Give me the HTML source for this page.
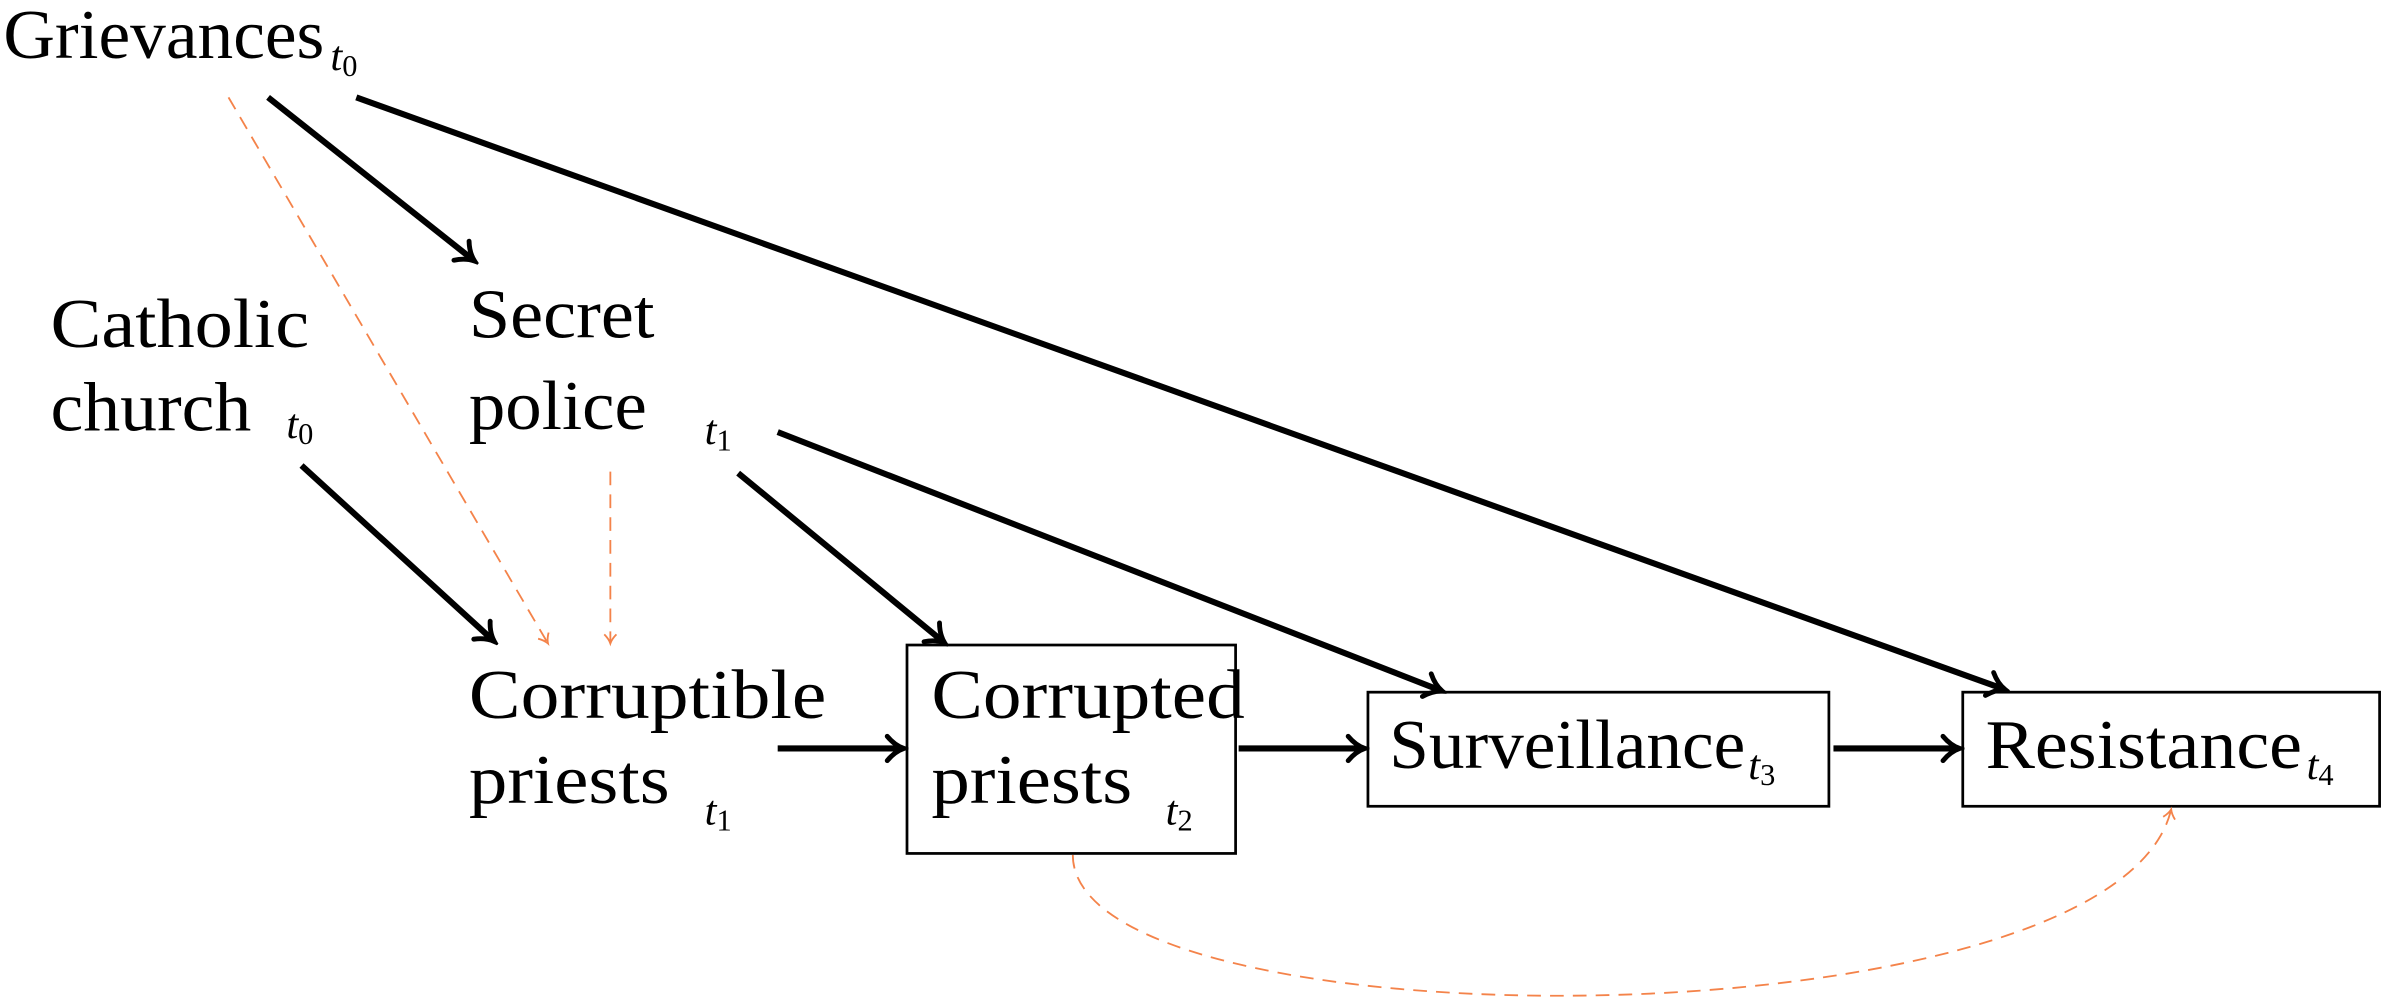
<!DOCTYPE html>
<html><head><meta charset="utf-8"><style>html,body{margin:0;padding:0;background:#fff;overflow:hidden}svg{display:block}text{font-family:"Liberation Serif","DejaVu Serif",serif}</style></head>
<body>
<svg width="2386" height="1001" viewBox="0 0 1568 658" xmlns="http://www.w3.org/2000/svg">
<defs>
<marker id="a" markerWidth="16" markerHeight="20" refX="12" refY="10" orient="auto" markerUnits="userSpaceOnUse">
<path d="M2,2 Q7,8 13,10 Q7,12 2,18" fill="none" stroke="#000" stroke-width="3.2" stroke-linecap="round"/>
</marker>
<marker id="o" markerWidth="10" markerHeight="10" refX="8" refY="5" orient="auto" markerUnits="userSpaceOnUse">
<path d="M2,1 Q5,4 8,5 Q5,6 2,9" fill="none" stroke="#f4834a" stroke-width="1.2"/>
</marker>
</defs>
<g font-size="46" fill="#000">
<text x="2" y="38" textLength="211" lengthAdjust="spacingAndGlyphs">Grievances</text><text x="217" y="46" font-size="28" font-style="italic">t<tspan font-style="normal" font-size="20" dy="4">0</tspan></text>
<text x="33" y="228" textLength="170" lengthAdjust="spacingAndGlyphs">Catholic</text><text x="33" y="283" textLength="132" lengthAdjust="spacingAndGlyphs">church</text>
<text x="188" y="288" font-size="28" font-style="italic">t<tspan font-style="normal" font-size="20" dy="4">0</tspan></text>
<text x="308" y="222" textLength="122" lengthAdjust="spacingAndGlyphs">Secret</text><text x="308" y="282" textLength="117" lengthAdjust="spacingAndGlyphs">police</text>
<text x="463" y="292" font-size="28" font-style="italic">t<tspan font-style="normal" font-size="20" dy="4">1</tspan></text>
<text x="308" y="472" textLength="235" lengthAdjust="spacingAndGlyphs">Corruptible</text><text x="308" y="528" textLength="132" lengthAdjust="spacingAndGlyphs">priests</text>
<text x="463" y="542" font-size="28" font-style="italic">t<tspan font-style="normal" font-size="20" dy="4">1</tspan></text>
<text x="612" y="472" textLength="206" lengthAdjust="spacingAndGlyphs">Corrupted</text><text x="612" y="528" textLength="132" lengthAdjust="spacingAndGlyphs">priests</text>
<text x="766" y="542" font-size="28" font-style="italic">t<tspan font-style="normal" font-size="20" dy="4">2</tspan></text>
<text x="913" y="505" textLength="234" lengthAdjust="spacingAndGlyphs">Surveillance</text><text x="1149" y="512" font-size="28" font-style="italic">t<tspan font-style="normal" font-size="20" dy="4">3</tspan></text>
<text x="1305" y="505" textLength="208" lengthAdjust="spacingAndGlyphs">Resistance</text><text x="1516" y="512" font-size="28" font-style="italic">t<tspan font-style="normal" font-size="20" dy="4">4</tspan></text>
</g>
<g fill="none" stroke="#000" stroke-width="1.8">
<rect x="596" y="424" width="216" height="137"/>
<rect x="899" y="455" width="303" height="75"/>
<rect x="1290" y="455" width="274" height="75"/>
</g>
<g fill="none" stroke="#000" stroke-width="4" marker-end="url(#a)">
<line x1="176" y1="64" x2="311" y2="171"/>
<line x1="234" y1="64" x2="1317" y2="453"/>
<line x1="198" y1="306" x2="324" y2="421"/>
<line x1="485" y1="311" x2="620" y2="422"/>
<line x1="511" y1="284" x2="947" y2="454"/>
<line x1="511" y1="492" x2="593" y2="492"/>
<line x1="814" y1="492" x2="896" y2="492"/>
<line x1="1205" y1="492" x2="1287" y2="492"/>
</g>
<g fill="none" stroke="#f4834a" stroke-width="1.2" stroke-dasharray="9,6" marker-end="url(#o)">
<line x1="150" y1="64" x2="360" y2="423"/>
<line x1="401" y1="310" x2="401" y2="423"/>
<path d="M705,562 C705,690 1390,690 1427,532"/>
</g>
</svg>
</body></html>
